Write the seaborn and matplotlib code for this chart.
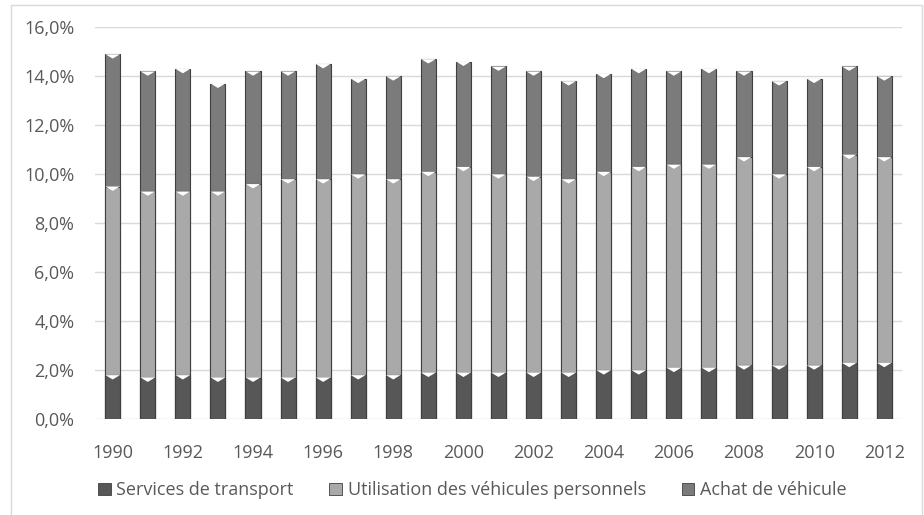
import matplotlib

matplotlib.use("Agg")
import matplotlib.pyplot as plt
import numpy as np
import pandas as pd
import seaborn as sns
from matplotlib.patches import Patch, Rectangle
from matplotlib.path import Path

years = list(range(1990, 2013))
transport = [1.8, 1.7, 1.8, 1.7, 1.7, 1.7, 1.7, 1.8, 1.8, 1.9, 1.9, 1.9,
             1.9, 1.9, 2.0, 2.0, 2.1, 2.1, 2.2, 2.2, 2.2, 2.3, 2.3]
# cumulative top of "Utilisation" segment
usage_top = [9.5, 9.3, 9.3, 9.3, 9.6, 9.8, 9.8, 10.0, 9.8, 10.1, 10.3, 10.0,
             9.9, 9.8, 10.1, 10.3, 10.4, 10.4, 10.7, 10.0, 10.3, 10.8, 10.7]
totals = [14.9, 14.2, 14.3, 13.7, 14.2, 14.2, 14.5, 13.9, 14.0, 14.7, 14.6, 14.4,
          14.2, 13.8, 14.1, 14.3, 14.2, 14.3, 14.2, 13.8, 13.9, 14.4, 14.0]

usage = [u - t for u, t in zip(usage_top, transport)]
purchase = [tot - u for tot, u in zip(totals, usage_top)]

series = ["Services de transport", "Utilisation des véhicules personnels", "Achat de véhicule"]
colors = ["#575757", "#a9a9a9", "#7b7b7b"]

df = pd.DataFrame({
    "year": [str(y) for y in years],
    "transport": transport,
    "usage": usage,
    "purchase": purchase,
})
df["c1"] = df["transport"]
df["c2"] = df["c1"] + df["usage"]
df["c3"] = df["c2"] + df["purchase"]

sns.set_theme(style="white")
plt.rcParams["font.family"] = ["Open Sans", "DejaVu Sans"]

fig = plt.figure(figsize=(9.24, 5.15), dpi=100)
ax = fig.add_axes([0.103, 0.186, 0.873, 0.761])

# stacked bars: draw cumulative heights, tallest first
for col, color in zip(["c3", "c2", "c1"], colors[::-1]):
    sns.barplot(data=df, x="year", y=col, color=color, width=0.43,
                edgecolor="#3f3f3f", linewidth=0.8, saturation=1, ax=ax, zorder=3)

# small white bevel triangles at the top of each segment
tri = Path([(-1, 0), (1, 0), (0, -0.6), (-1, 0)],
           [Path.MOVETO, Path.LINETO, Path.LINETO, Path.CLOSEPOLY])
xpos = np.arange(len(years))
for col in ["c1", "c2", "c3"]:
    ax.scatter(xpos, df[col], marker=tri, s=110, color="white",
               edgecolors="none", zorder=4)

ax.set_ylim(0, 16)
ax.set_xlim(-0.5, len(years) - 0.5)
ax.set_yticks(np.arange(0, 17, 2))
ax.set_yticklabels([f"{v:.1f}%".replace(".", ",") for v in np.arange(0, 17, 2)])
ax.set_xticks(xpos[::2])
ax.set_xticklabels([str(y) for y in years[::2]])
ax.yaxis.grid(True, color="#d9d9d9", linewidth=1, zorder=0)
ax.set_axisbelow(True)
ax.set_xlabel("")
ax.set_ylabel("")
for s in ax.spines.values():
    s.set_visible(False)
ax.tick_params(axis="both", length=0, labelsize=13, labelcolor="#595959")
ax.tick_params(axis="x", pad=18)
ax.tick_params(axis="y", pad=15)

handles = [Patch(facecolor=c, edgecolor="#3f3f3f", linewidth=0.6) for c in colors]
fig.legend(handles, series, loc="center", bbox_to_anchor=(0.511, 0.048), ncol=3,
           frameon=False, fontsize=13, labelcolor="#595959",
           handlelength=0.7, handleheight=0.7, handletextpad=0.3,
           columnspacing=2.0)

fig.patches.append(Rectangle((0.012, -0.01), 0.986, 1.0, transform=fig.transFigure,
                             fill=False, edgecolor="#d9d9d9", linewidth=1))

fig.savefig("out.png", dpi=100)
